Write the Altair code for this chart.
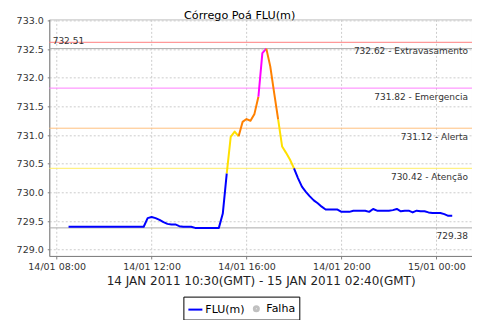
import altair as alt
import pandas as pd

# ---------------- data ----------------
titulo = "Córrego Poá FLU(m)"
eixo_x_titulo = "14 JAN 2011 10:30(GMT) - 15 JAN 2011 02:40(GMT)"

inicio = "2011-01-14 08:30"   # first reading, 10-minute readings
nivel = [
    729.40, 729.40, 729.40, 729.40, 729.40, 729.40, 729.40, 729.40, 729.40, 729.40,
    729.40, 729.40, 729.40, 729.40, 729.40, 729.40, 729.40, 729.40, 729.40, 729.40,
    729.55, 729.57, 729.55, 729.52, 729.48, 729.45, 729.44, 729.44, 729.41, 729.40,
    729.40, 729.40,
    729.38, 729.38, 729.38, 729.38, 729.38, 729.38, 729.38,
    729.63, 730.33, 730.97, 731.06, 730.98, 731.23, 731.28, 731.25, 731.37, 731.67,
    732.43, 732.51, 732.20, 731.73, 731.27, 730.80, 730.69, 730.57, 730.42,
    730.25, 730.10, 730.01, 729.93, 729.86, 729.81, 729.75, 729.70, 729.70, 729.70,
    729.70, 729.66, 729.66, 729.66, 729.68, 729.68, 729.68, 729.68, 729.66, 729.71,
    729.68, 729.68, 729.68, 729.68, 729.69, 729.71, 729.67, 729.68, 729.68, 729.65,
    729.68, 729.67, 729.67, 729.65, 729.64, 729.64, 729.64, 729.62, 729.59, 729.59,
]
# colour band of each drawn segment, as runs (band, number of segments)
faixas = [("normal", 40), ("atencao", 3), ("alerta", 5), ("emergencia", 2),
          ("alerta", 3), ("atencao", 4), ("normal", 40)]
cor_faixa = {"normal": "#0000ff", "atencao": "#ffe000",
             "alerta": "#ff8000", "emergencia": "#ff00ff"}

limiar_rotulo = ["732.62 - Extravasamento", "731.82 - Emergencia",
                 "731.12 - Alerta", "730.42 - Atenção"]
limiar_valor = [732.62, 731.82, 731.12, 730.42]
limiar_cor = ["#ff8080", "#ff80ff", "#ffc080", "#ffee66"]
maximo = 732.51
minimo = 729.38

y_ticks = [729.0, 729.5, 730.0, 730.5, 731.0, 731.5, 732.0, 732.5, 733.0]
legenda_series = ["FLU(m)", "Falha"]
legenda_cores = ["#0000ff", "#c0c0c0"]

# ---------------- tables ----------------
tempos = pd.date_range(start=inicio, periods=len(nivel), freq="10min")
tempos_txt = [t.strftime("%Y-%m-%dT%H:%M:%SZ") for t in tempos]

seg_faixa = []
for nome, n in faixas:
    seg_faixa += [nome] * n

linhas = []
trecho = 0
for i in range(1, len(nivel)):
    if i == 1 or seg_faixa[i - 1] != seg_faixa[i - 2]:
        trecho += 1
        linhas.append({"t": tempos_txt[i - 1], "v": nivel[i - 1], "trecho": trecho,
                       "cor": cor_faixa[seg_faixa[i - 1]], "ordem": i - 1})
    linhas.append({"t": tempos_txt[i], "v": nivel[i], "trecho": trecho,
                   "cor": cor_faixa[seg_faixa[i - 1]], "ordem": i})
df_linha = pd.DataFrame(linhas)

df_lim = pd.DataFrame({"v": limiar_valor + [maximo, minimo],
                       "cor": limiar_cor + ["#aaaaaa", "#aaaaaa"]})
df_rot_dir = pd.DataFrame({"v": limiar_valor + [minimo],
                           "rotulo": limiar_rotulo + [f"{minimo:.2f}"]})
df_rot_esq = pd.DataFrame({"v": [maximo], "rotulo": [f"{maximo:.2f}"]})
df_leg = pd.DataFrame({"t": [tempos_txt[0]] * 2, "v": [nivel[0]] * 2,
                       "serie": legenda_series})

# ---------------- encodings ----------------
W, H = 423, 236.7

x_enc = alt.X(
    "t:T", title=eixo_x_titulo,
    scale=alt.Scale(type="utc", domain=[
        alt.DateTime(year=2011, month=1, date=14, hours=7, minutes=41, seconds=18, utc=True),
        alt.DateTime(year=2011, month=1, date=15, hours=1, minutes=30, utc=True)]),
    axis=alt.Axis(values=[
        alt.DateTime(year=2011, month=1, date=14, hours=8, utc=True),
        alt.DateTime(year=2011, month=1, date=14, hours=12, utc=True),
        alt.DateTime(year=2011, month=1, date=14, hours=16, utc=True),
        alt.DateTime(year=2011, month=1, date=14, hours=20, utc=True),
        alt.DateTime(year=2011, month=1, date=15, hours=0, utc=True)],
        format="%d/%m %H:%M", labelAngle=0, tickSize=3,
        labelPadding=3, titlePadding=4, labelFlush=False, labelOverlap=False),
)
y_enc = alt.Y(
    "v:Q", title=None,
    scale=alt.Scale(domain=[728.89, 733.02], nice=False, zero=False),
    axis=alt.Axis(values=y_ticks, format=".1f", tickSize=2, labelPadding=4,
                  labelOverlap=False),
)

regras = alt.Chart(df_lim).mark_rule(strokeWidth=1).encode(
    y=y_enc, color=alt.Color("cor:N", scale=None))

rot_dir = alt.Chart(df_rot_dir).mark_text(
    align="right", baseline="middle", dy=8.4, font="DejaVu Sans", fontSize=9,
    color="#333333").encode(x=alt.value(W - 4), y=y_enc, text="rotulo:N")

rot_esq = alt.Chart(df_rot_esq).mark_text(
    align="left", baseline="middle", dy=-8, font="DejaVu Sans", fontSize=9,
    color="#333333").encode(x=alt.value(3.4), y=y_enc, text="rotulo:N")

linha = alt.Chart(df_linha).mark_line(strokeWidth=2, strokeJoin="round").encode(
    x=x_enc, y=y_enc, detail="trecho:N", order="ordem:Q",
    color=alt.Color("cor:N", scale=None))

leg = alt.Legend(
    title=None, orient="none", legendX=134.2, legendY=277.4, direction="horizontal",
    symbolSize=196, symbolStrokeWidth=2, symbolOpacity=1,
    labelFont="DejaVu Sans", labelFontSize=11, labelColor="black",
    padding=4, strokeColor="black", columnPadding=3, labelOffset=2,
)
disco = ("M-0.07,0a0.07,0.07 0 1,0 0.14,0a0.07,0.07 0 1,0 -0.14,0"
         "M-0.36,0a0.36,0.36 0 1,0 0.72,0a0.36,0.36 0 1,0 -0.72,0")
legenda = alt.Chart(df_leg).mark_point(filled=False).encode(
    x=x_enc, y=y_enc, opacity=alt.value(0),
    color=alt.Color("serie:N", scale=alt.Scale(domain=legenda_series,
                                               range=legenda_cores), legend=leg),
    shape=alt.Shape("serie:N", scale=alt.Scale(
        domain=legenda_series, range=["M-1,0H1", disco]), legend=leg),
)

chart = alt.layer(regras, rot_dir, rot_esq, linha, legenda).properties(
    width=W, height=H,
    title=alt.TitleParams(titulo, font="DejaVu Sans", fontSize=11.2,
                          fontWeight="normal", color="black", anchor="middle",
                          frame="group", dx=-21, baseline="alphabetic",
                          offset=0, dy=14.5),
    autosize=alt.AutoSizeParams(type="none"),
    padding={"left": 41.3, "top": 11.3, "right": 0, "bottom": 64},
).configure_view(stroke="#c0c0c0").configure_axis(
    domainColor="#808080", tickColor="#808080", gridColor="#cccccc",
    gridDash=[2, 2], labelFont="DejaVu Sans", labelFontSize=9.5,
    labelColor="#333333", titleFont="DejaVu Sans", titleFontSize=12,
    titleFontWeight="normal", titleColor="#222222",
)

chart.save("out.html", embed_options={"renderer": "svg", "actions": False})
